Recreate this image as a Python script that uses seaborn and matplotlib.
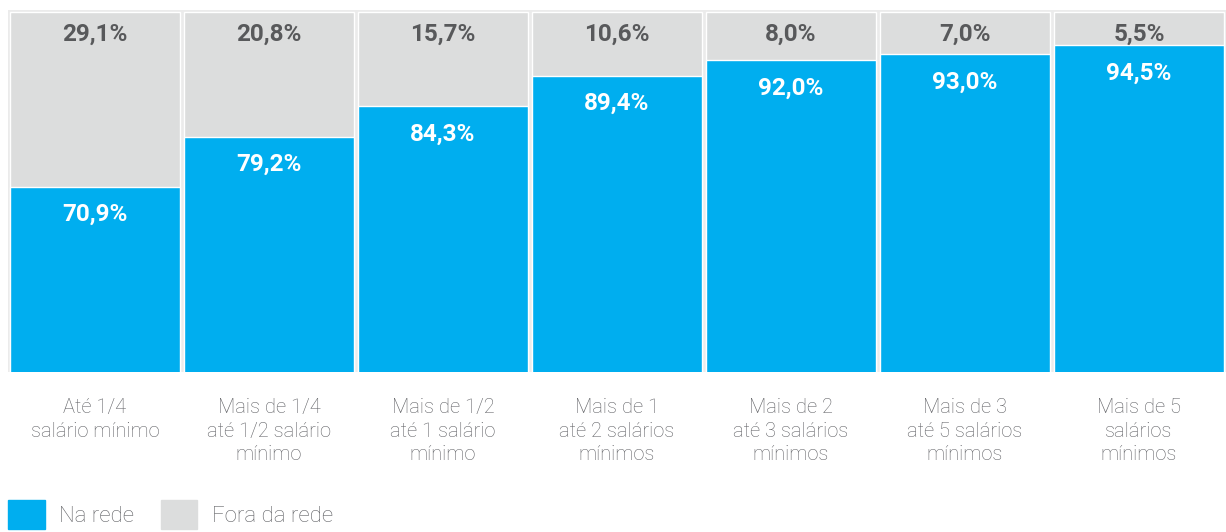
import numpy as np
import pandas as pd
import matplotlib.pyplot as plt
import seaborn as sns
from matplotlib.patches import Patch
from matplotlib.transforms import blended_transform_factory

# %% data
categories = ['Até 1/4\nsalário mínimo',
              'Mais de 1/4\naté 1/2 salário\nmínimo',
              'Mais de 1/2\naté 1 salário\nmínimo',
              'Mais de 1\naté 2 salários\nmínimos',
              'Mais de 2\naté 3 salários\nmínimos',
              'Mais de 3\naté 5 salários\nmínimos',
              'Mais de 5\nsalários\nmínimos']
na_rede = [70.9, 79.2, 84.3, 89.4, 92.0, 93.0, 94.5]
fora_rede = [29.1, 20.8, 15.7, 10.6, 8.0, 7.0, 5.5]
series_names = ['Na rede', 'Fora da rede']

blue = '#00aeef'
grey = '#dcdddd'
frame = '#ebebeb'

# %% plot
def fmt(v):
    return f'{v:.1f}%'.replace('.', ',')

def main():
    sns.set_style('white')
    plt.rcParams['font.family'] = ['Roboto', 'DejaVu Sans']

    df = pd.DataFrame({'cat': categories, 'na': na_rede, 'fora': fora_rede})
    df['total'] = df['na'] + df['fora']

    fig = plt.figure(figsize=(12.26, 5.32), dpi=100)
    ax = fig.add_axes([8 / 1226, 160 / 532, 1 - 8 / 1226, 362 / 532])
    ax.set_facecolor(frame)

    sns.barplot(data=df, x='cat', y='total', color=grey, saturation=1,
                width=0.98, ax=ax)
    sns.barplot(data=df, x='cat', y='na', color=blue, saturation=1,
                width=0.98, ax=ax)
    ax.set_ylim(40, 100.35)
    ax.set_xlim(-0.5, 6.5)

    for s in ax.spines.values():
        s.set_visible(False)
    ax.set_yticks([])
    ax.set_xlabel('')
    ax.set_ylabel('')
    ax.tick_params(axis='x', length=0, pad=19, labelsize=14.5, labelcolor='#606165')
    for t in ax.get_xticklabels():
        t.set_linespacing(1.3)
        t.set_fontweight('light')

    trans = blended_transform_factory(ax.transData, ax.transAxes)
    for i, (n, f) in enumerate(zip(na_rede, fora_rede)):
        ax.text(i, 0.932, fmt(f), transform=trans, ha='center', va='center',
                fontsize=17.5, fontweight='bold', color='#58595b')
        ax.annotate(fmt(n), (i, n), xytext=(0, -20), textcoords='offset points',
                    ha='center', va='center', fontsize=17.5, fontweight='bold',
                    color='white')

    handles = [Patch(color=blue), Patch(color=grey)]
    fig.legend(handles, series_names, loc='upper left',
               bbox_to_anchor=(8 / 1226, 1 - 500 / 532), frameon=False,
               borderpad=0, borderaxespad=0, ncol=2, fontsize=16,
               handlelength=1.65, handleheight=1.65, handletextpad=0.65,
               columnspacing=1.2, labelcolor='#606165')
    for t in fig.legends[0].get_texts():
        t.set_fontweight('light')

    plt.savefig('out.png', dpi=100)

if __name__ == '__main__':
    main()
